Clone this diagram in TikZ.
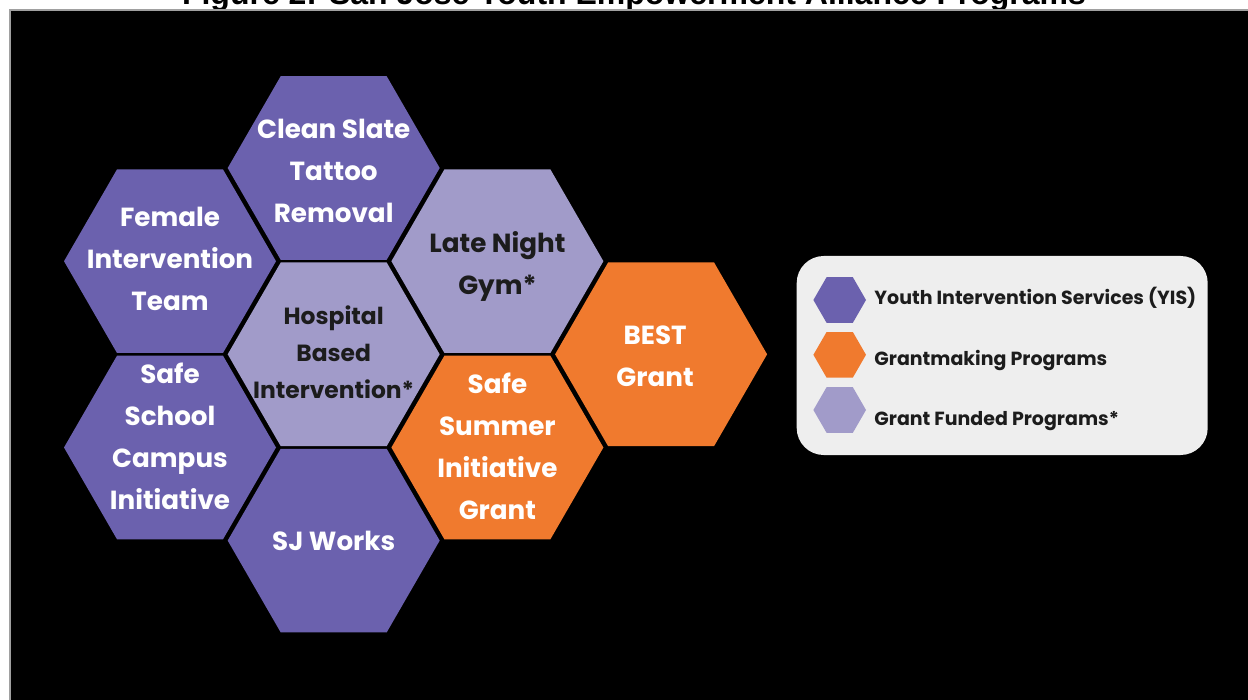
\documentclass[tikz,border=0pt]{standalone}
\usepackage{fontspec}
\setmainfont{Poppins}
\newfontfamily\titlefont{Liberation Sans}
\usetikzlibrary{shapes.geometric}

\definecolor{yis}{HTML}{6B61AE}
\definecolor{grantfund}{HTML}{A19BC9}
\definecolor{grantmake}{HTML}{F07A2E}
\definecolor{legendbg}{HTML}{EEEEEE}
\definecolor{inkdark}{HTML}{1C1C1C}
\definecolor{frameline}{HTML}{A0A0A0}

\tikzset{
  hexcell/.style={regular polygon, regular polygon sides=6, minimum size=106pt,
    inner sep=0pt, outer sep=0pt, draw=none},
  yiscell/.style={hexcell, fill=yis},
  fundcell/.style={hexcell, fill=grantfund},
  makecell/.style={hexcell, fill=grantmake},
  celltext/.style={align=center, inner sep=0pt, text=white,
    font=\fontsize{13.1}{21}\selectfont\bfseries},
  cellsmall/.style={align=center, inner sep=0pt, text=inkdark,
    font=\fontsize{11.7}{18.5}\selectfont\bfseries},
  keyhex/.style={regular polygon, regular polygon sides=6, minimum size=26.3pt,
    inner sep=0pt, draw=none},
  keytext/.style={anchor=base west, inner sep=0pt, text=inkdark,
    font=\fontsize{9.5}{12}\selectfont\bfseries},
}

\begin{document}
\begin{tikzpicture}[x=0.5pt, y=-0.5pt]
  \useasboundingbox (0,0) rectangle (1248,700);

  % caption line above the panel
  \node[anchor=base, inner sep=0pt, font=\titlefont\bfseries\fontsize{16}{16}\selectfont]
    (title) at (634,5) {Figure 2: San José Youth Empowerment Alliance Programs};

  % dark panel
  \fill[black] (10,10) rectangle (1248,700);
  \draw[frameline, line width=0.6pt] (10,700) -- (10,10) -- (1248,10);

  % honeycomb cells
  \node[yiscell]  (female)   at (170.0,261.2) {};
  \node[yiscell]  (school)   at (170.0,447.5) {};
  \node[yiscell]  (slate)    at (333.7,168.0) {};
  \node[fundcell] (hospital) at (333.7,354.3) {};
  \node[yiscell]  (sjworks)  at (333.7,540.6) {};
  \node[fundcell] (gym)      at (497.4,261.2) {};
  \node[makecell] (summer)   at (497.4,447.5) {};
  \node[makecell] (best)     at (661.1,354.3) {};

  % cell labels
  \node[celltext]  (tfemale)   at ([yshift=1pt]female.center)    {Female\\Intervention\\Team};
  \node[celltext]  (tschool)   at ([yshift=5.5pt]school.center)  {Safe\\School\\Campus\\Initiative};
  \node[celltext]  (tslate)    at ([yshift=-1.5pt]slate.center)  {Clean Slate\\Tattoo\\Removal};
  \node[cellsmall] (thospital) at ([yshift=1pt]hospital.center)  {Hospital\\Based\\Intervention*};
  \node[celltext]  (tsjworks)  at (sjworks)                      {SJ Works};
  \node[celltext, text=inkdark] (tgym) at ([yshift=-2.5pt]gym.center) {Late Night\\Gym*};
  \node[celltext]  (tsummer)   at ([yshift=0.5pt]summer.center)  {Safe\\Summer\\Initiative\\Grant};
  \node[celltext]  (tbest)     at ([xshift=-3pt,yshift=-1pt]best.center) {BEST\\Grant};

  % legend
  \node[fill=legendbg, rounded corners=13.5pt, minimum width=205.5pt,
    minimum height=99.5pt, inner sep=0pt] (legend) at (1002.2,355.5) {};
  \node[keyhex, fill=yis]       (kyis)  at (839.7,300.0) {};
  \node[keyhex, fill=grantmake] (kmake) at (839.7,354.8) {};
  \node[keyhex, fill=grantfund] (kfund) at (839.7,410.0) {};
  \node[keytext] (lyis)  at (874,305) {Youth Intervention Services (YIS)};
  \node[keytext] (lmake) at (874,365.5) {Grantmaking Programs};
  \node[keytext] (lfund) at (874,425.5) {Grant Funded Programs*};
\end{tikzpicture}
\end{document}
